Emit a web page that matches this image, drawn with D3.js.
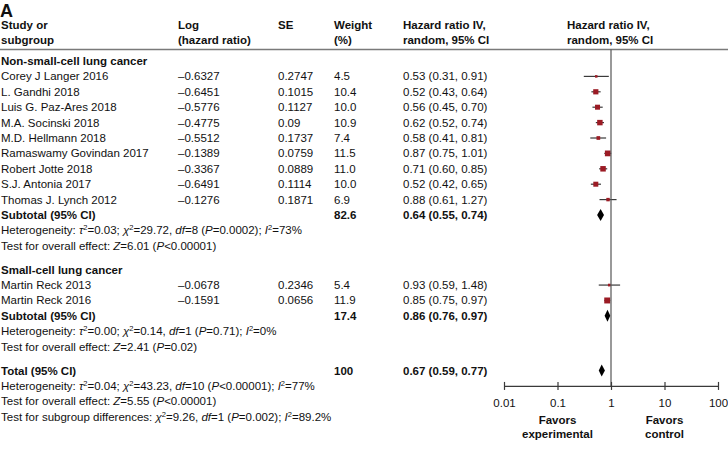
<!DOCTYPE html>
<html><head><meta charset="utf-8">
<script src="https://cdn.jsdelivr.net/npm/d3@7"></script>
<style>
html,body{margin:0;padding:0;background:#fff;}
svg text{font-family:"Liberation Sans",Arial,sans-serif;font-size:11.5px;fill:#111;}
</style></head>
<body><svg id="c" width="728" height="454"></svg>
<script>
// ---- data ----
const nsclcStudies = ["Corey J Langer 2016","L. Gandhi 2018","Luis G. Paz-Ares 2018","M.A. Socinski 2018","M.D. Hellmann 2018","Ramaswamy Govindan 2017","Robert Jotte 2018","S.J. Antonia 2017","Thomas J. Lynch 2012"];
const nsclcLogHR = ["–0.6327","–0.6451","–0.5776","–0.4775","–0.5512","–0.1389","–0.3367","–0.6491","–0.1276"];
const nsclcSE = ["0.2747","0.1015","0.1127","0.09","0.1737","0.0759","0.0889","0.1114","0.1871"];
const nsclcWeight = [4.5,10.4,10.0,10.9,7.4,11.5,11.0,10.0,6.9];
const nsclcHR = [0.53,0.52,0.56,0.62,0.58,0.87,0.71,0.52,0.88];
const nsclcLo = [0.31,0.43,0.45,0.52,0.41,0.75,0.60,0.42,0.61];
const nsclcHi = [0.91,0.64,0.70,0.74,0.81,1.01,0.85,0.65,1.27];
const nsclcSub = {w:"82.6", hr:0.64, lo:0.55, hi:0.74};

const sclcStudies = ["Martin Reck 2013","Martin Reck 2016"];
const sclcLogHR = ["–0.0678","–0.1591"];
const sclcSE = ["0.2346","0.0656"];
const sclcWeight = [5.4,11.9];
const sclcHR = [0.93,0.85];
const sclcLo = [0.59,0.75];
const sclcHi = [1.48,0.97];
const sclcSub = {w:"17.4", hr:0.86, lo:0.76, hi:0.97};

const totalRes = {w:"100", hr:0.67, lo:0.59, hi:0.77};
const axisTicks = [0.01,0.1,1,10,100];
const axisTickLabels = ["0.01","0.1","1","10","100"];

// stats lines: [text, italic]; "^2" marks a superscript 2
const het1 = [["Heterogeneity: ",0],["τ",1],["^2",0],["=0.03; ",0],["χ",1],["^2",0],["=29.72, ",0],["df",1],["=8 (",0],["P",1],["=0.0002); ",0],["I",1],["^2",0],["=73%",0]];
const eff1 = [["Test for overall effect: ",0],["Z",1],["=6.01 (",0],["P",1],["<0.00001)",0]];
const het2 = [["Heterogeneity: ",0],["τ",1],["^2",0],["=0.00; ",0],["χ",1],["^2",0],["=0.14, ",0],["df",1],["=1 (",0],["P",1],["=0.71); ",0],["I",1],["^2",0],["=0%",0]];
const eff2 = [["Test for overall effect: ",0],["Z",1],["=2.41 (",0],["P",1],["=0.02)",0]];
const het3 = [["Heterogeneity: ",0],["τ",1],["^2",0],["=0.04; ",0],["χ",1],["^2",0],["=43.23, ",0],["df",1],["=10 (",0],["P",1],["<0.00001); ",0],["I",1],["^2",0],["=77%",0]];
const eff3 = [["Test for overall effect: ",0],["Z",1],["=5.55 (",0],["P",1],["<0.00001)",0]];
const subDiff = [["Test for subgroup differences: ",0],["χ",1],["^2",0],["=9.26, ",0],["df",1],["=1 (",0],["P",1],["=0.002); ",0],["I",1],["^2",0],["=89.2%",0]];

// ---- layout ----
const svg = d3.select("#c");
const colX = {study:1, log:178, se:278, w:334, hr:403, plotHead:567};
const x = d3.scaleLog().domain([0.01,100]).range([504,718]);
const y0 = 61, step = 15.4, gapStep = 1.55;
let curY = y0;
const sqColor = "#9b1b24";

const fmt = v => d3.format(".2f")(v);
function ciText(hr,lo,hi){return `${fmt(hr)} (${fmt(lo)}, ${fmt(hi)})`;}

function txt(xp, yc, s, bold, anchor){
  return svg.append("text").attr("x",xp).attr("y",yc).attr("dy","0.35em")
    .attr("font-weight",bold?"bold":null).attr("text-anchor",anchor||"start").text(s);
}
function rich(xp, yc, parts){
  const t = svg.append("text").attr("x",xp).attr("y",yc).attr("dy","0.35em");
  let reset = false;
  parts.forEach(([s,it])=>{
    if(s==="^2"){
      t.append("tspan").attr("dy",-4).style("font-size","7.5px").text("2");
      reset = true;
    } else {
      const sp = t.append("tspan").attr("font-style",it?"italic":null).text(s);
      if(reset){ sp.attr("dy",4); reset=false; }
    }
  });
}

// panel label
svg.append("text").attr("x",0).attr("y",17).attr("font-weight","bold").style("font-size","18px").text("A");

// headers
[[colX.study,["Study or","subgroup"]],[colX.log,["Log","(hazard ratio)"]],[colX.se,["SE"]],
 [colX.w,["Weight","(%)"]],[colX.hr,["Hazard ratio IV,","random, 95% CI"]],[colX.plotHead,["Hazard ratio IV,","random, 95% CI"]]]
 .forEach(([xp,lines])=>lines.forEach((l,i)=>txt(xp,25+i*14.5,l,true)));
svg.append("line").attr("x1",0).attr("x2",728).attr("y1",49.5).attr("y2",49.5).attr("stroke","#7a7a7a").attr("stroke-width",1.3);

function studyRow(yc, name, lhr, se, w, hr, lo, hi){
  txt(colX.study,yc,name); txt(colX.log,yc,lhr); txt(colX.se,yc,se); txt(colX.w,yc,d3.format(".1f")(w));
  txt(colX.hr,yc,ciText(hr,lo,hi));
  svg.append("line").attr("x1",x(lo)).attr("x2",x(hi)).attr("y1",yc).attr("y2",yc).attr("stroke","#3a3a3a").attr("stroke-width",1.2);
  const s = Math.max(2.5, w*0.5);
  svg.append("rect").attr("x",x(hr)-s/2).attr("y",yc-s/2).attr("width",s).attr("height",s).attr("fill",sqColor);
}
function diamondRow(yc, label, res){
  txt(colX.study,yc,label,true); txt(colX.w,yc,res.w,true); txt(colX.hr,yc,ciText(res.hr,res.lo,res.hi),true);
  const h=6;
  svg.append("path").attr("d",`M${x(res.lo)},${yc}L${x(res.hr)},${yc-h}L${x(res.hi)},${yc}L${x(res.hr)},${yc+h}Z`).attr("fill","#000");
}
function next(){ const v = curY; curY += step; return v; }
function gap(){ curY += step*(gapStep-1); }

txt(colX.study,next(),"Non-small-cell lung cancer",true);
nsclcStudies.forEach((s,k)=>studyRow(next(), s, nsclcLogHR[k], nsclcSE[k], nsclcWeight[k], nsclcHR[k], nsclcLo[k], nsclcHi[k]));
diamondRow(next(), "Subtotal (95% CI)", nsclcSub);
rich(colX.study,next(),het1);
rich(colX.study,next(),eff1);
gap();
txt(colX.study,next(),"Small-cell lung cancer",true);
sclcStudies.forEach((s,k)=>studyRow(next(), s, sclcLogHR[k], sclcSE[k], sclcWeight[k], sclcHR[k], sclcLo[k], sclcHi[k]));
diamondRow(next(), "Subtotal (95% CI)", sclcSub);
rich(colX.study,next(),het2);
rich(colX.study,next(),eff2);
gap();
diamondRow(next(), "Total (95% CI)", totalRes);
const axisY = curY;
rich(colX.study,next(),het3);
rich(colX.study,next(),eff3);
rich(colX.study,next(),subDiff);

// reference line at 1
svg.append("line").attr("x1",x(1)).attr("x2",x(1)).attr("y1",49.5).attr("y2",axisY).attr("stroke","#555").attr("stroke-width",1.2);

// axis
const ax = svg.append("g").attr("transform",`translate(0,${axisY})`)
  .call(d3.axisBottom(x).tickValues(axisTicks).tickFormat((d,i)=>axisTickLabels[i]).tickSizeInner(0).tickSizeOuter(0).tickPadding(13));
ax.select(".domain").attr("stroke","#3a3a3a").attr("stroke-width",1.2);
ax.selectAll(".tick text").attr("font-family",null).attr("font-size",null).style("font-size","11.5px").attr("fill","#111");
ax.selectAll(".tick").append("line").attr("y1",-4).attr("y2",4).attr("stroke","#3a3a3a").attr("stroke-width",1.2);

[["Favors","experimental",0.1],["Favors","control",10]].forEach(([a,b,v])=>{
  txt(x(v),axisY+34,a,true,"middle"); txt(x(v),axisY+48,b,true,"middle");
});
</script></body></html>
